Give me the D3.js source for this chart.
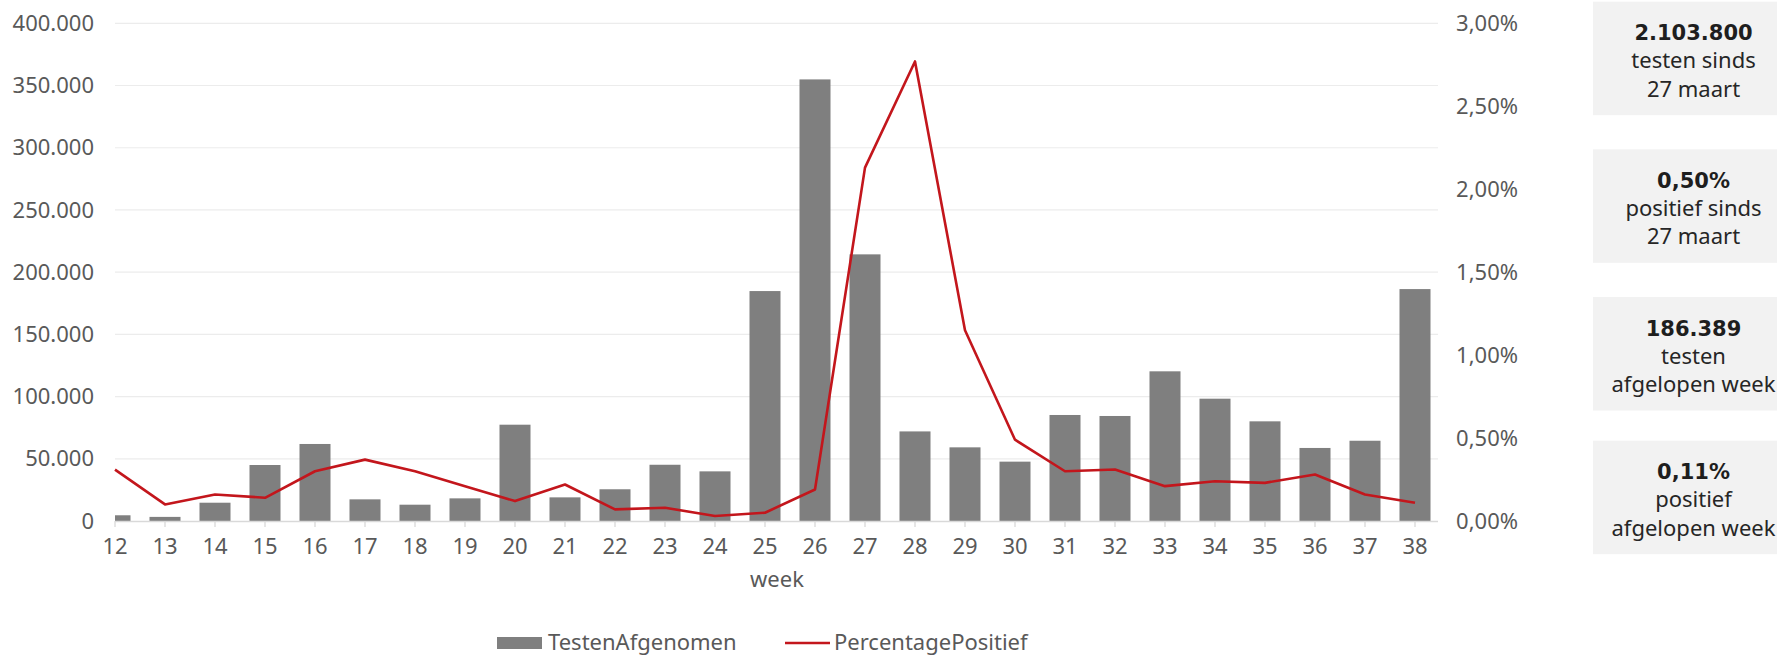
<!DOCTYPE html>
<html>
<head>
<meta charset="utf-8">
<script src="https://cdn.jsdelivr.net/npm/d3@7"></script>
<style>
  html, body { margin: 0; padding: 0; background: #ffffff; }
  svg { display: block; }
  text { font-family: "Noto Sans", "Open Sans", sans-serif; }
  text.kpi { font-family: "DejaVu Sans", sans-serif; font-weight: bold; }
</style>
</head>
<body>
<svg id="chart" width="1777" height="655"></svg>
<script>
// ---- data ----
const weeks = [12,13,14,15,16,17,18,19,20,21,22,23,24,25,26,27,28,29,30,31,32,33,34,35,36,37,38];
const testenAfgenomen = [4600, 3300, 14700, 45000, 61900, 17400, 13100, 18200, 77400, 19000, 25500, 45200, 39900, 184800, 354900, 214300, 72000, 59200, 47700, 85200, 84400, 120300, 98300, 80100, 58700, 64500, 186389];
const percentagePositief = [0.31, 0.10, 0.16, 0.14, 0.30, 0.37, 0.30, 0.21, 0.12, 0.22, 0.07, 0.08, 0.03, 0.05, 0.19, 2.13, 2.77, 1.15, 0.49, 0.30, 0.31, 0.21, 0.24, 0.23, 0.28, 0.16, 0.11];
const leftTicks = [0, 50000, 100000, 150000, 200000, 250000, 300000, 350000, 400000];
const rightTicks = [0, 0.5, 1.0, 1.5, 2.0, 2.5, 3.0];
const seriesNames = ["TestenAfgenomen", "PercentagePositief"];
const axisTitle = "week";
const kpiValues = ["2.103.800", "0,50%", "186.389", "0,11%"];
const kpiLines = [["testen sinds", "27 maart"], ["positief sinds", "27 maart"], ["testen", "afgelopen week"], ["positief", "afgelopen week"]];

// ---- layout ----
const svg = d3.select("#chart");
const plotLeft = 115, plotRight = 1438, plotTop = 23.3, plotBottom = 521;
const nl = d3.formatLocale({decimal: ",", thousands: ".", grouping: [3], currency: ["€", ""]});
const fmtLeft = nl.format(",.0f");
const fmtRight = d => nl.format(".2f")(d) + "%";

const x = d3.scalePoint().domain(weeks).range([115, 1415]);
const barW = x.step() * 0.62;
const yL = d3.scaleLinear().domain([0, 400000]).range([plotBottom, plotTop]);
const yR = d3.scaleLinear().domain([0, 3]).range([plotBottom, plotTop]);

const textCol = "#595959";

// gridlines
svg.append("g").selectAll("line").data(leftTicks.filter(d => d > 0)).join("line")
  .attr("x1", plotLeft).attr("x2", plotRight)
  .attr("y1", d => yL(d)).attr("y2", d => yL(d))
  .attr("stroke", "#ececec").attr("stroke-width", 1.2);

// clip
svg.append("clipPath").attr("id", "plotclip").append("rect")
  .attr("x", plotLeft).attr("y", 0).attr("width", plotRight - plotLeft).attr("height", plotBottom);

// bars
svg.append("g").attr("clip-path", "url(#plotclip)").selectAll("rect")
  .data(weeks.map((w, i) => ({w, v: testenAfgenomen[i]}))).join("rect")
  .attr("x", d => x(d.w) - barW / 2).attr("width", barW)
  .attr("y", d => yL(d.v)).attr("height", d => yL(0) - yL(d.v))
  .attr("fill", "#7f7f7f");

// x axis line and ticks
svg.append("line").attr("x1", plotLeft).attr("x2", plotRight)
  .attr("y1", plotBottom + 0.5).attr("y2", plotBottom + 0.5)
  .attr("stroke", "#d9d9d9").attr("stroke-width", 1.3);
svg.append("g").selectAll("line").data(weeks).join("line")
  .attr("x1", d => x(d)).attr("x2", d => x(d))
  .attr("y1", plotBottom).attr("y2", plotBottom + 6)
  .attr("stroke", "#d9d9d9").attr("stroke-width", 1.3);

// x labels
svg.append("g").selectAll("text").data(weeks).join("text")
  .attr("x", d => x(d)).attr("y", 554)
  .attr("text-anchor", "middle").attr("font-size", 22).attr("fill", textCol)
  .text(d => d);

svg.append("text").attr("x", 777).attr("y", 587)
  .attr("text-anchor", "middle").attr("font-size", 22).attr("fill", textCol)
  .text(axisTitle);

// left labels
svg.append("g").selectAll("text").data(leftTicks).join("text")
  .attr("x", 94).attr("y", d => yL(d)).attr("dy", "0.35em")
  .attr("text-anchor", "end").attr("font-size", 22).attr("fill", textCol)
  .text(d => fmtLeft(d));

// right labels
svg.append("g").selectAll("text").data(rightTicks).join("text")
  .attr("x", 1518).attr("y", d => yR(d)).attr("dy", "0.35em")
  .attr("text-anchor", "end").attr("font-size", 22).attr("fill", textCol)
  .text(d => fmtRight(d));

// line
const line = d3.line().x((d, i) => x(weeks[i])).y(d => yR(d));
svg.append("path").datum(percentagePositief)
  .attr("d", line).attr("fill", "none")
  .attr("stroke", "#c3161c").attr("stroke-width", 2.6)
  .attr("stroke-linejoin", "round");

// legend
svg.append("rect").attr("x", 497).attr("y", 637).attr("width", 45).attr("height", 12).attr("fill", "#7f7f7f");
svg.append("text").attr("x", 548).attr("y", 650).attr("font-size", 22).attr("fill", textCol).text(seriesNames[0]);
svg.append("line").attr("x1", 785).attr("x2", 830).attr("y1", 643).attr("y2", 643)
  .attr("stroke", "#c3161c").attr("stroke-width", 2.6);
svg.append("text").attr("x", 834).attr("y", 650).attr("font-size", 22).attr("fill", textCol).text(seriesNames[1]);

// KPI boxes
const boxTops = [1.7, 149.3, 297, 440.7];
const boxX = 1593, boxW = 201, boxH = 113.5, cx = 1693.5;
const kg = svg.append("g").selectAll("g").data(kpiValues.map((v, i) => ({v, lines: kpiLines[i], top: boxTops[i]}))).join("g");
kg.append("rect").attr("x", boxX).attr("y", d => d.top).attr("width", boxW).attr("height", boxH).attr("fill", "#f2f2f2");
kg.append("text").attr("class", "kpi").attr("x", cx).attr("y", d => d.top + 38.5)
  .attr("text-anchor", "middle").attr("font-size", 21).attr("fill", "#1e1e1e")
  .text(d => d.v);
kg.append("text").attr("x", cx).attr("y", d => d.top + 66.5)
  .attr("text-anchor", "middle").attr("font-size", 22).attr("fill", "#262626")
  .text(d => d.lines[0]);
kg.append("text").attr("x", cx).attr("y", d => d.top + 95)
  .attr("text-anchor", "middle").attr("font-size", 22).attr("fill", "#262626")
  .text(d => d.lines[1]);
</script>
</body>
</html>
